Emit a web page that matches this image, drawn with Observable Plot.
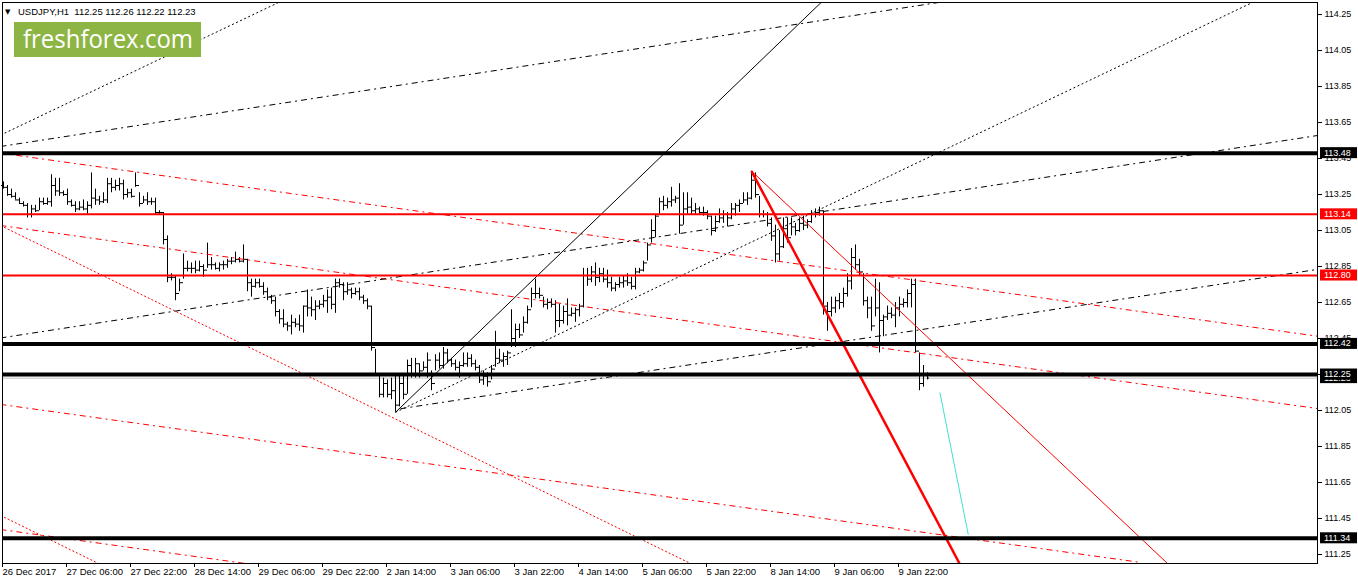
<!DOCTYPE html>
<html><head><meta charset="utf-8">
<script src="https://cdn.jsdelivr.net/npm/d3@7"></script>
<script src="https://cdn.jsdelivr.net/npm/@observablehq/plot@0.6"></script>
<style>html,body{margin:0;padding:0;background:#fff;} #chart{width:1358px;height:584px;overflow:hidden;position:relative}</style>
</head><body><div id="chart"></div>
<script>
// ---- USDJPY H1 bars (index 0 = 26 Dec 2017 14:00) ----
const highs = [
113.32,113.30,113.28,113.26,113.23,113.21,113.20,113.19,113.19,113.23,
113.23,113.23,113.36,113.34,113.34,113.27,113.28,113.22,113.21,113.21,
113.22,113.21,113.37,113.28,113.24,113.26,113.34,113.34,113.33,113.34,
113.33,113.28,113.28,113.37,113.26,113.24,113.26,113.23,113.23,113.16,
113.15,113.02,112.81,112.80,112.78,112.92,112.88,112.87,112.88,112.88,
112.86,112.98,112.90,112.87,112.87,112.88,112.89,112.90,112.93,112.90,
112.97,112.89,112.78,112.78,112.78,112.76,112.73,112.69,112.68,112.61,
112.61,112.54,112.58,112.56,112.58,112.63,112.72,112.68,112.66,112.66,
112.69,112.72,112.73,112.78,112.78,112.76,112.76,112.73,112.73,112.73,
112.69,112.67,112.63,112.39,112.25,112.23,112.22,112.23,112.24,112.25,
112.25,112.33,112.34,112.34,112.31,112.32,112.37,112.27,112.36,112.37,
112.40,112.39,112.34,112.33,112.32,112.37,112.37,112.36,112.33,112.30,
112.27,112.26,112.30,112.49,112.39,112.37,112.38,112.61,112.53,112.53,
112.57,112.63,112.73,112.78,112.73,112.68,112.67,112.67,112.66,112.64,
112.63,112.67,112.62,112.62,112.64,112.84,112.84,112.85,112.87,112.84,
112.84,112.83,112.79,112.76,112.79,112.80,112.81,112.79,112.84,112.84,
112.88,112.98,113.11,113.14,113.23,113.24,113.23,113.29,113.24,113.31,
113.26,113.26,113.23,113.20,113.18,113.18,113.16,113.13,113.13,113.17,
113.16,113.15,113.20,113.20,113.22,113.26,113.26,113.38,113.37,113.24,
113.16,113.15,113.12,113.08,113.05,113.12,113.12,113.12,113.09,113.12,
113.13,113.11,113.16,113.17,113.18,113.16,112.65,112.68,112.68,112.70,
112.73,112.81,112.95,112.97,112.89,112.81,112.68,112.68,112.78,112.76,
112.58,112.63,112.62,112.65,112.68,112.67,112.72,112.78,112.78,112.37,
112.30,112.26];
const lows = [
113.28,113.24,113.23,113.22,113.20,113.18,113.12,113.12,113.15,113.16,
113.19,113.19,113.18,113.24,113.24,113.24,113.19,113.18,113.15,113.16,
113.16,113.14,113.17,113.19,113.19,113.20,113.20,113.26,113.27,113.27,
113.22,113.23,113.23,113.29,113.18,113.20,113.19,113.19,113.14,113.14,
112.97,112.76,112.77,112.66,112.71,112.78,112.82,112.81,112.81,112.82,
112.79,112.84,112.83,112.83,112.82,112.83,112.84,112.86,112.87,112.87,
112.87,112.71,112.68,112.73,112.73,112.69,112.66,112.64,112.57,112.53,
112.51,112.49,112.47,112.51,112.49,112.48,112.57,112.57,112.55,112.61,
112.62,112.59,112.61,112.59,112.73,112.66,112.69,112.67,112.69,112.66,
112.64,112.61,112.38,112.24,112.12,112.12,112.12,112.11,112.04,112.07,
112.11,112.14,112.23,112.23,112.23,112.27,112.23,112.16,112.27,112.28,
112.28,112.31,112.29,112.27,112.23,112.29,112.29,112.29,112.27,112.20,
112.19,112.18,112.22,112.29,112.31,112.29,112.30,112.40,112.40,112.45,
112.48,112.53,112.62,112.67,112.67,112.62,112.61,112.62,112.48,112.51,
112.53,112.52,112.57,112.54,112.57,112.62,112.74,112.76,112.74,112.76,
112.76,112.73,112.71,112.71,112.73,112.73,112.74,112.72,112.72,112.81,
112.82,112.88,112.98,113.01,113.14,113.16,113.17,113.18,113.20,113.03,
113.08,113.14,113.14,113.14,113.14,113.13,113.11,113.02,113.04,113.09,
113.09,113.07,113.11,113.13,113.15,113.20,113.19,113.22,113.23,113.12,
113.12,113.07,112.99,112.87,112.88,112.95,112.98,113.02,113.02,113.04,
113.05,113.06,113.09,113.12,113.13,112.58,112.49,112.57,112.59,112.61,
112.62,112.68,112.72,112.83,112.80,112.63,112.56,112.49,112.57,112.37,
112.46,112.55,112.56,112.51,112.57,112.62,112.62,112.62,112.37,112.16,
112.18,112.22];
const closes = [
113.29,113.25,113.24,113.22,113.20,113.19,113.14,113.17,113.16,113.21,
113.20,113.21,113.30,113.27,113.26,113.25,113.21,113.19,113.17,113.18,
113.17,113.19,113.23,113.22,113.21,113.22,113.31,113.29,113.30,113.31,
113.25,113.26,113.24,113.30,113.20,113.22,113.21,113.21,113.15,113.15,
113.00,112.79,112.79,112.70,112.76,112.84,112.84,112.84,112.83,112.85,
112.83,112.86,112.86,112.84,112.86,112.86,112.88,112.88,112.89,112.88,
112.89,112.76,112.74,112.76,112.74,112.71,112.68,112.66,112.60,112.56,
112.53,112.52,112.54,112.53,112.52,112.63,112.62,112.61,112.63,112.64,
112.66,112.68,112.64,112.76,112.75,112.71,112.72,112.70,112.71,112.68,
112.66,112.63,112.40,112.25,112.14,112.20,112.14,112.16,112.08,112.20,
112.14,112.30,112.25,112.31,112.27,112.29,112.33,112.20,112.33,112.30,
112.37,112.33,112.31,112.29,112.30,112.31,112.34,112.31,112.29,112.22,
112.24,112.21,112.28,112.34,112.33,112.35,112.37,112.45,112.50,112.47,
112.54,112.61,112.70,112.70,112.69,112.64,112.65,112.64,112.55,112.55,
112.60,112.58,112.59,112.61,112.63,112.80,112.78,112.82,112.79,112.81,
112.78,112.76,112.73,112.75,112.76,112.77,112.76,112.74,112.82,112.83,
112.87,112.97,113.05,113.13,113.21,113.19,113.21,113.22,113.23,113.08,
113.17,113.18,113.16,113.17,113.15,113.15,113.13,113.05,113.10,113.12,
113.14,113.12,113.17,113.19,113.20,113.22,113.23,113.33,113.25,113.14,
113.14,113.09,113.02,112.92,112.96,113.06,113.01,113.07,113.05,113.09,
113.08,113.10,113.14,113.15,113.16,112.63,112.60,112.62,112.66,112.65,
112.70,112.77,112.90,112.86,112.82,112.66,112.62,112.52,112.62,112.55,
112.57,112.59,112.58,112.62,112.64,112.65,112.70,112.75,112.38,112.20,
112.25,112.23];
const firstOpen = 113.30;

// ---- axes ----
const xTickIdx = [0,16,32,48,64,80,96,112,128,144,160,176,192,208,224];
const xTickLabels = ["26 Dec 2017","27 Dec 06:00","27 Dec 22:00","28 Dec 14:00","29 Dec 06:00","29 Dec 22:00","2 Jan 14:00","3 Jan 06:00","3 Jan 22:00","4 Jan 14:00","5 Jan 06:00","5 Jan 22:00","8 Jan 14:00","9 Jan 06:00","9 Jan 22:00"];
const yTicks = [114.25,114.05,113.85,113.65,113.45,113.25,113.05,112.85,112.65,112.45,112.25,112.05,111.85,111.65,111.45,111.25];

// ---- horizontal levels ----
const blackLevels = [113.48, 112.42, 112.25, 111.34];
const redLevels = [113.14, 112.80];
const bidPrice = [112.23];

// ---- trend lines (bar index, price) ----
const blackSolidLines = [{x1:98, y1:112.04, x2:205, y2:114.33}];
const blackDottedLines = [
  {x1:-0.75, y1:113.58, x2:68.75, y2:114.317},
  {x1:98, y1:112.04, x2:312.5, y2:114.32}];
const blackDashDotLines = [
  {x1:-0.75, y1:113.517, x2:233.75, y2:114.317},
  {x1:-0.75, y1:112.453, x2:328.5, y2:113.578},
  {x1:99.25, y1:112.06, x2:328.5, y2:112.834}];
const redThickLines = [{x1:187, y1:113.38, x2:239, y2:111.2}];
const redThinLines = [{x1:187.5, y1:113.37, x2:291, y2:111.2}];
const redDashDotLines = [
  {x1:-0.75, y1:113.48, x2:328.5, y2:112.463},
  {x1:-0.75, y1:113.078, x2:328.5, y2:112.061},
  {x1:-0.75, y1:112.084, x2:284.25, y2:111.206},
  {x1:-0.75, y1:111.389, x2:60.5, y2:111.2}];
const redDottedLines = [
  {x1:-0.75, y1:113.078, x2:171.75, y2:111.2},
  {x1:-0.75, y1:111.467, x2:23.75, y2:111.2}];
const cyanLines = [{x1:234.1, y1:112.15, x2:241.2, y2:111.36}];

// ---- right-axis price labels (drawn in list order) ----
const priceLabels = [112.23, 113.48, 112.42, 112.25, 111.34, 113.14, 112.80];
const priceLabelKinds = ["black","black","black","black","black","red","red"];

const title = "USDJPY,H1  112.25 112.26 112.22 112.23";
const logoText = "freshforex.com";

const bars = highs.map((h, i) => ({i, high: h, low: lows[i], close: closes[i], open: i === 0 ? firstOpen : closes[i - 1]}));
const lnk = (data, o) => Plot.link(data, {x1:"x1", y1:"y1", x2:"x2", y2:"y2", clip:true, ...o});

const chart = Plot.plot({
  width: 1358, height: 584,
  marginLeft: 2, marginRight: 41, marginTop: 2, marginBottom: 21,
  x: {domain: [-0.25, 328.5], axis: null},
  y: {domain: [111.2, 114.317], axis: null},
  style: {fontFamily: "'Liberation Sans', Arial, sans-serif", fontSize: "9px", background: "#fff", color: "#000", overflow: "visible"},
  marks: [
    Plot.ruleY(bidPrice, {stroke: "#c0c0c0", strokeWidth: 1}),
    Plot.ruleX(bars, {x: "i", y1: "low", y2: "high", stroke: "#000", strokeWidth: 1}),
    Plot.ruleY(bars, {y: "open", x1: d => d.i - 0.5, x2: "i", stroke: "#000", strokeWidth: 1}),
    Plot.ruleY(bars, {y: "close", x1: "i", x2: d => d.i + 0.5, stroke: "#000", strokeWidth: 1}),
    lnk(redDashDotLines, {stroke: "#ff0000", strokeWidth: 1, strokeDasharray: "6,4,2,4"}),
    lnk(redDottedLines, {stroke: "#ff0000", strokeWidth: 1, strokeDasharray: "2,2"}),
    lnk(blackDashDotLines, {stroke: "#000", strokeWidth: 1, strokeDasharray: "6,4,2,4"}),
    lnk(blackDottedLines, {stroke: "#000", strokeWidth: 1, strokeDasharray: "2,2.5"}),
    lnk(blackSolidLines, {stroke: "#000", strokeWidth: 1}),
    lnk(redThinLines, {stroke: "#ff0000", strokeWidth: 1}),
    lnk(redThickLines, {stroke: "#ff0000", strokeWidth: 2.5}),
    lnk(cyanLines, {stroke: "#40e0d0", strokeWidth: 1}),
    Plot.ruleY(redLevels, {stroke: "#ff0000", strokeWidth: 2}),
    Plot.ruleY(blackLevels, {stroke: "#000", strokeWidth: 4}),
    Plot.frame({stroke: "#000"}),
    Plot.axisY(yTicks, {anchor: "right", tickSize: 4, tickPadding: 3, tickFormat: d => d.toFixed(2), fontSize: 9}),
    Plot.axisX(xTickIdx, {anchor: "bottom", tickSize: 4, tickPadding: 1, tickFormat: d => xTickLabels[xTickIdx.indexOf(d)], textAnchor: "start", dx: -1, fontSize: 9.5})
  ]
});
document.getElementById("chart").append(chart);

// price label boxes on the right axis, positioned with the chart's own y scale
const yScale = chart.scale("y");
const s = d3.select(chart);
const gl = s.append("g").attr("text-anchor", "start").attr("font-size", 9);
priceLabels.forEach((p, k) => {
  const cy = yScale.apply(p);
  gl.append("rect").attr("x", 1320).attr("y", cy - 5.5).attr("width", 37).attr("height", 11)
    .attr("fill", priceLabelKinds[k] === "red" ? "#ff0000" : "#000");
  gl.append("text").attr("x", 1324).attr("y", cy).attr("dy", "0.34em").attr("fill", "#fff").text(p.toFixed(2));
});

// title and logo
const gt = s.append("g").attr("text-anchor", "start");
gt.append("text").attr("x", 5).attr("y", 14).attr("font-family", "'DejaVu Sans', sans-serif").attr("font-size", 7).attr("fill", "#000").text("▼");
gt.append("text").attr("x", 18).attr("y", 14.5).attr("font-size", 9.5).attr("fill", "#000").style("white-space", "pre").text(title);
gt.append("rect").attr("x", 14).attr("y", 22).attr("width", 187).attr("height", 35).attr("fill", "#8db544");
gt.append("text").attr("x", 23).attr("y", 48).attr("font-family", "'Open Sans', sans-serif").attr("font-size", 26).attr("fill", "#fff")
  .attr("textLength", 170).attr("lengthAdjust", "spacingAndGlyphs").text(logoText);
</script>
</body></html>
